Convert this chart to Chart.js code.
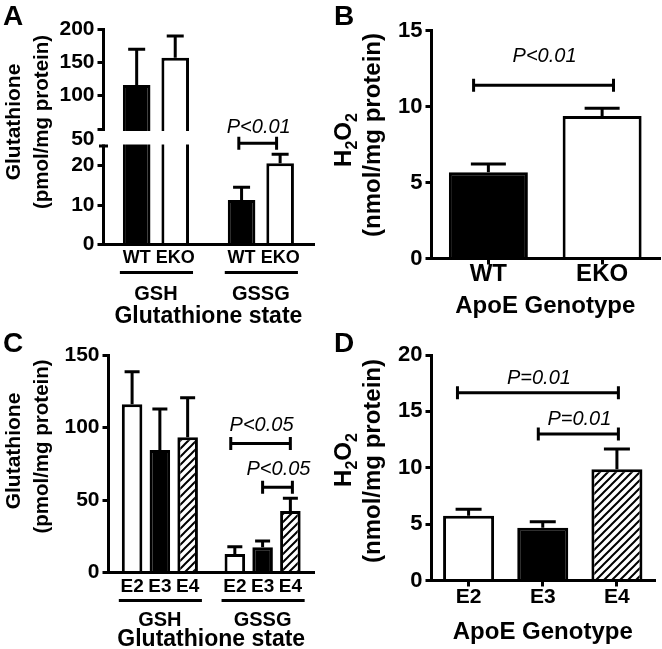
<!DOCTYPE html>
<html>
<head>
<meta charset="utf-8">
<title>Glutathione and H2O2 by ApoE genotype</title>
<script src="https://cdn.jsdelivr.net/npm/chart.js@4.4.1/dist/chart.umd.min.js"></script>
<style>
  body { margin: 0; background: #fff; }
  #fig { position: relative; width: 662px; height: 649px; }
  #fig canvas { position: absolute; }
</style>
</head>
<body>
<div id="fig">
  <canvas id="panelA" width="331" height="325" style="left:0;top:0"></canvas>
  <canvas id="panelB" width="331" height="325" style="left:331px;top:0"></canvas>
  <canvas id="panelC" width="331" height="324" style="left:0;top:325px"></canvas>
  <canvas id="panelD" width="331" height="324" style="left:331px;top:325px"></canvas>
</div>
<script>
// A: glutathione, WT vs ApoE knockout (broken y axis)
const statesA = ['GSH', 'GSSG'];
const wtGlut = [116, 11.3];
const wtGlutSem = [53.6, 3.2];
const ekoGlut = [157, 20.6];
const ekoGlutSem = [32.5, 2.3];
const ticksA = [0, 10, 20, 50, 100, 150, 200];

// B: H2O2, WT vs EKO
const genotypesB = ['WT', 'EKO'];
const h2o2B = [5.67, 9.37];
const h2o2BSem = [0.55, 0.51];
const ticksB = [0, 5, 10, 15];

// C: glutathione by human ApoE isoform
const statesC = ['GSH', 'GSSG'];
const e2Glut = [116, 12.8];
const e2GlutSem = [22.5, 5.0];
const e3Glut = [84.5, 17.4];
const e3GlutSem = [28.3, 4.3];
const e4Glut = [93.2, 42.4];
const e4GlutSem = [27.4, 8.8];
const ticksC = [0, 50, 100, 150];

// D: H2O2 by isoform
const isoformsD = ['E2', 'E3', 'E4'];
const h2o2D = [5.75, 4.68, 9.86];
const h2o2DSem = [0.56, 0.54, 1.8];
const ticksD = [0, 5, 10, 15, 20];

// significance brackets: ends in category units, height in data units
const sigA = [{ from: 0.79, to: 1.15, at: 29, text: 'P<0.01' }];
const sigB = [{ from: -0.13, to: 1.1, at: 11.4, text: 'P<0.01' }];
const sigC = [
  { from: 0.69, to: 1.27, at: 89, text: 'P<0.05' },
  { from: 1.0, to: 1.29, at: 58.8, text: 'P<0.05' }
];
const sigD = [
  { from: -0.15, to: 2.02, at: 16.66, text: 'P=0.01' },
  { from: 0.94, to: 2.02, at: 13, text: 'P=0.01' }
];

const FAMILY = '"Liberation Sans", Arial, sans-serif';
Chart.defaults.font.family = FAMILY;
Chart.defaults.color = '#000';

// linear scale with a break: segments are [from, to, pixel weight]
class BrokenLinearScale extends Chart.LinearScale {
  static id = 'brokenLinear';
  static defaults = Chart.LinearScale.defaults;

  getPixelForValue(value) {
    if (value === null || isNaN(value)) return NaN;
    const segs = this.options.segments;
    const total = segs.reduce((s, g) => s + g[2], 0);
    let acc = 0;
    for (const [a, b, w] of segs) {
      if (value <= b) {
        return this.getPixelForDecimal((acc + w * (Math.max(value, a) - a) / (b - a)) / total);
      }
      acc += w;
    }
    return this.getPixelForDecimal(1);
  }

  getValueForPixel(pixel) {
    const segs = this.options.segments;
    const total = segs.reduce((s, g) => s + g[2], 0);
    const d = this.getDecimalForPixel(pixel) * total;
    let acc = 0;
    for (const [a, b, w] of segs) {
      if (d <= acc + w) return a + (b - a) * (d - acc) / w;
      acc += w;
    }
    return segs[segs.length - 1][1];
  }
}
Chart.register(BrokenLinearScale);

function hatch() {
  const c = document.createElement('canvas');
  c.width = c.height = 8;
  const g = c.getContext('2d');
  g.fillStyle = '#fff';
  g.fillRect(0, 0, 8, 8);
  g.strokeStyle = '#000';
  g.lineWidth = 2;
  g.beginPath();
  g.moveTo(0, 8); g.lineTo(8, 0);
  g.moveTo(-2, 2); g.lineTo(2, -2);
  g.moveTo(6, 10); g.lineTo(10, 6);
  g.stroke();
  return g.createPattern(c, 'repeat');
}
const HATCH = hatch();

function drawRotated(ctx, parts, x, cy, size) {
  const fontFor = p => `bold ${p.sub ? Math.round(size * 0.65) : size}px ${FAMILY}`;
  ctx.save();
  ctx.translate(x, cy);
  ctx.rotate(-Math.PI / 2);
  ctx.textAlign = 'left';
  ctx.textBaseline = 'alphabetic';
  let w = 0;
  parts.forEach(p => { ctx.font = fontFor(p); w += ctx.measureText(p.t).width; });
  let px = -w / 2;
  parts.forEach(p => {
    ctx.font = fontFor(p);
    ctx.fillText(p.t, px, p.sub ? size * 0.25 : 0);
    px += ctx.measureText(p.t).width;
  });
  ctx.restore();
}

const extras = {
  id: 'extras',
  afterDatasetsDraw(chart, args, o) {
    const ctx = chart.ctx, y = chart.scales.y;
    ctx.save();
    ctx.strokeStyle = '#000';
    ctx.lineWidth = 3;
    chart.data.datasets.forEach((ds, i) => {
      chart.getDatasetMeta(i).data.forEach((bar, j) => {
        const top = y.getPixelForValue(ds.data[j] + ds.sem[j]);
        ctx.beginPath();
        ctx.moveTo(bar.x, bar.y);
        ctx.lineTo(bar.x, top);
        ctx.moveTo(bar.x - o.cap / 2, top);
        ctx.lineTo(bar.x + o.cap / 2, top);
        ctx.stroke();
      });
    });
    ctx.restore();
  },
  afterDraw(chart, args, o) {
    const { ctx, chartArea: area, scales: { x, y } } = chart;
    ctx.save();
    ctx.strokeStyle = '#000';
    ctx.fillStyle = '#000';
    ctx.lineWidth = 3;

    if (o.gap) {
      const lo = y.getPixelForValue(o.gap[0]), hi = y.getPixelForValue(o.gap[1]);
      ctx.fillStyle = '#fff';
      ctx.fillRect(area.left - 3, hi + 2, area.right - area.left + 6, lo - hi - 3.5);
      ctx.fillStyle = '#000';
      ctx.beginPath();
      ctx.moveTo(area.left - 4.5, lo);
      ctx.lineTo(area.left + 4.5, lo);
      ctx.stroke();
      ctx.font = `bold ${o.tickFont}px ${FAMILY}`;
      ctx.textAlign = 'right';
      ctx.textBaseline = 'middle';
      ctx.fillText(String(o.gap[1]), area.left - 9, hi + 10);
    }

    if (o.sub) {
      const metas = chart.data.datasets.map((d, i) => chart.getDatasetMeta(i));
      ctx.font = `bold ${o.sub}px ${FAMILY}`;
      ctx.textAlign = 'center';
      ctx.textBaseline = 'middle';
      metas.forEach((m, i) => m.data.forEach(b => {
        ctx.fillText(chart.data.datasets[i].label, b.x, area.bottom + 14);
      }));
      chart.data.labels.forEach((l, j) => {
        const a = metas[0].data[j], b = metas[metas.length - 1].data[j];
        ctx.beginPath();
        ctx.moveTo(a.x - a.width / 2 - 3, area.bottom + 28);
        ctx.lineTo(b.x + b.width / 2 + 4, area.bottom + 28);
        ctx.stroke();
      });
    }

    (o.sig || []).forEach(s => {
      const x1 = x.getPixelForValue(s.from), x2 = x.getPixelForValue(s.to);
      const yy = y.getPixelForValue(s.at);
      ctx.beginPath();
      ctx.moveTo(x1, yy); ctx.lineTo(x2, yy);
      ctx.moveTo(x1, yy - 6.5); ctx.lineTo(x1, yy + 6.5);
      ctx.moveTo(x2, yy - 6.5); ctx.lineTo(x2, yy + 6.5);
      ctx.stroke();
      ctx.font = `italic 20px ${FAMILY}`;
      ctx.textAlign = 'center';
      ctx.textBaseline = 'alphabetic';
      ctx.fillText(s.text, (x1 + x2) / 2 + 1, yy - o.lift);
    });

    ctx.font = `bold 28px ${FAMILY}`;
    ctx.textAlign = 'left';
    ctx.textBaseline = 'alphabetic';
    ctx.fillText(o.letter, 3, o.letterY);
    o.yTitle.forEach(t => drawRotated(ctx, t.parts, t.x, t.y, t.size));
    ctx.restore();
  }
};

function yAxis(ticks, width, size, extra) {
  return Object.assign({
    type: 'linear',
    min: ticks[0],
    max: ticks[ticks.length - 1],
    afterBuildTicks: s => { s.ticks = ticks.map(v => ({ value: v })); },
    afterFit: s => { s.width = width; },
    grid: { drawOnChartArea: false, tickLength: 6, lineWidth: 3, color: '#000' },
    border: { color: '#000', width: 3, z: 1 },
    ticks: { font: { size, weight: 'bold' }, padding: 3, autoSkip: false }
  }, extra || {});
}

function xAxis(o) {
  return {
    offset: true,
    afterFit: s => { s.height = o.height; },
    grid: { offset: false, drawOnChartArea: false, drawTicks: o.marks, tickLength: 6, lineWidth: 3, color: '#000' },
    border: { color: '#000', width: 3, z: 1 },
    ticks: { font: { size: o.size, weight: 'bold', lineHeight: 1 }, padding: o.pad, maxRotation: 0, autoSkip: false },
    title: {
      display: true, text: o.title,
      font: { size: o.titleSize, weight: 'bold', lineHeight: 1 },
      padding: { top: 0, bottom: o.titlePad }
    }
  };
}

function panel(id, o) {
  return new Chart(document.getElementById(id), {
    type: 'bar',
    data: { labels: o.labels, datasets: o.datasets },
    plugins: [extras],
    options: {
      responsive: false,
      animation: false,
      events: [],
      devicePixelRatio: 1,
      layout: { padding: { top: o.top, right: o.right, left: 0, bottom: 0 } },
      datasets: {
        bar: {
          categoryPercentage: o.catPct,
          barPercentage: o.barPct,
          borderColor: '#000',
          borderWidth: 3,
          borderSkipped: 'bottom'
        }
      },
      plugins: { legend: { display: false }, tooltip: { enabled: false }, extras: o.extras },
      scales: { x: o.x, y: o.y }
    }
  });
}

const glutTitle = [
  { parts: [{ t: 'Glutathione' }], x: 19.5, size: 21 },
  { parts: [{ t: '(pmol/mg protein)' }], x: 47.5, size: 20.5 }
];
const h2o2Title = [
  { parts: [{ t: 'H' }, { t: '2', sub: true }, { t: 'O' }, { t: '2', sub: true }], x: 19.5, size: 24 },
  { parts: [{ t: '(nmol/mg protein)' }], x: 48.5, size: 24 }
];

panel('panelA', {
  labels: statesA,
  datasets: [
    { label: 'WT', data: wtGlut, sem: wtGlutSem, backgroundColor: '#000' },
    { label: 'EKO', data: ekoGlut, sem: ekoGlutSem, backgroundColor: '#fff' }
  ],
  top: 29, right: 7, catPct: 0.735, barPct: 0.716,
  x: xAxis({ height: 80.5, marks: false, size: 20, pad: 39.5, title: 'Glutathione state', titleSize: 23, titlePad: -3 }),
  y: yAxis(ticksA, 103.5, 21, {
    type: 'brokenLinear',
    segments: [[0, 25, 98.5], [25, 50, 17], [50, 200, 100]],
    ticks: { font: { size: 21, weight: 'bold' }, padding: 3, autoSkip: false, callback: v => (v === 50 ? '' : v) }
  }),
  extras: {
    letter: 'A', letterY: 25, cap: 17, lift: 10.5, sig: sigA, gap: [25, 50], tickFont: 21, sub: 18,
    yTitle: glutTitle.map(t => Object.assign({ y: 122 }, t))
  }
});

panel('panelB', {
  labels: genotypesB,
  datasets: [{ label: 'H2O2', data: h2o2B, sem: h2o2BSem, backgroundColor: ['#000', '#fff'] }],
  top: 30.5, right: 3, catPct: 0.8, barPct: 0.868,
  x: xAxis({ height: 66.5, marks: true, size: 24, pad: -2.5, title: 'ApoE Genotype', titleSize: 24, titlePad: 6.5 }),
  y: yAxis(ticksB, 100.5, 22),
  extras: {
    letter: 'B', letterY: 25, cap: 35, lift: 23, sig: sigB,
    yTitle: [Object.assign({ y: 140 }, h2o2Title[0]), Object.assign({ y: 135 }, h2o2Title[1])]
  }
});

panel('panelC', {
  labels: statesC,
  datasets: [
    { label: 'E2', data: e2Glut, sem: e2GlutSem, backgroundColor: '#fff' },
    { label: 'E3', data: e3Glut, sem: e3GlutSem, backgroundColor: '#000' },
    { label: 'E4', data: e4Glut, sem: e4GlutSem, backgroundColor: HATCH }
  ],
  top: 30, right: 8, catPct: 0.811, barPct: 0.74,
  x: xAxis({ height: 76.5, marks: false, size: 20, pad: 37.5, title: 'Glutathione state', titleSize: 23, titlePad: -2 }),
  y: yAxis(ticksC, 108.5, 21),
  extras: {
    letter: 'C', letterY: 27, cap: 15, lift: 12.5, sig: sigC, sub: 19,
    yTitle: [Object.assign({ y: 126 }, glutTitle[0]), Object.assign({ y: 121.5 }, glutTitle[1])]
  }
});

panel('panelD', {
  labels: isoformsD,
  datasets: [{ label: 'H2O2', data: h2o2D, sem: h2o2DSem, backgroundColor: ['#fff', '#000', HATCH] }],
  top: 30, right: 8, catPct: 0.8, barPct: 0.86,
  x: xAxis({ height: 68.5, marks: true, size: 21, pad: 0.5, title: 'ApoE Genotype', titleSize: 24, titlePad: 4.5 }),
  y: yAxis(ticksD, 100.5, 22),
  extras: {
    letter: 'D', letterY: 27, cap: 26, lift: 8.5, sig: sigD,
    yTitle: [Object.assign({ y: 135 }, h2o2Title[0]), Object.assign({ y: 136 }, h2o2Title[1])]
  }
});
</script>
</body>
</html>
